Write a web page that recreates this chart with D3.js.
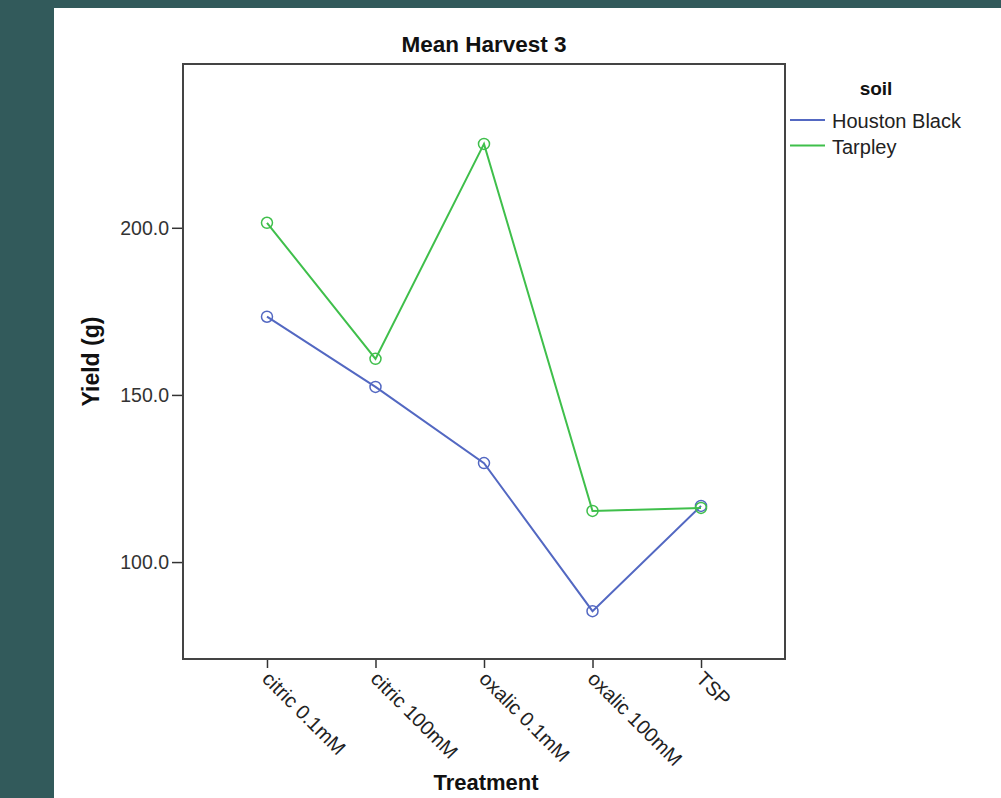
<!DOCTYPE html>
<html>
<head>
<meta charset="utf-8">
<script src="https://cdn.jsdelivr.net/npm/d3@7"></script>
<style>
  body { margin: 0; background: #325a5b; }
  svg { display: block; }
</style>
</head>
<body>
<svg id="chart" width="1001" height="798"></svg>
<script>
// data
let treatments = ["citric 0.1mM", "citric 100mM", "oxalic 0.1mM", "oxalic 100mM", "TSP"];
let houstonBlack = [173.4, 152.4, 129.6, 85.3, 116.8];
let tarpley = [201.5, 160.8, 225.1, 115.3, 116.2];
let yTicks = [100, 150, 200];
let seriesNames = ["Houston Black", "Tarpley"];
let seriesColors = ["#5368c2", "#3fbf4b"];

let svg = d3.select('#chart');
let fontFam = "'Liberation Sans', Arial, sans-serif";

// teal backdrop + white sheet
svg.append("rect").attr("width", 1001).attr("height", 798).attr("fill", "#325a5b");
svg.append("rect").attr("x", 54).attr("y", 8).attr("width", 947).attr("height", 790).attr("fill", "white");

let plot = {l: 183, r: 785, t: 64, b: 659};

let x = d3.scalePoint().domain(treatments).range([plot.l, plot.r]).padding(0.774);
let y = d3.scaleLinear().domain([71, 249]).range([plot.b, plot.t]);

// y axis
let yAxis = svg.append("g")
    .attr("transform", "translate(" + plot.l + ",0)")
    .call(d3.axisLeft(y).tickValues(yTicks).tickFormat(d3.format(".1f")).tickSize(11).tickPadding(3));
yAxis.select(".domain").remove();
yAxis.selectAll("line").attr("stroke", "#333").attr("stroke-width", 1.5);
yAxis.selectAll("text")
    .attr("font-family", fontFam).attr("font-size", "19.5px").attr("fill", "#333");

// x axis
let xAxis = svg.append("g")
    .attr("transform", "translate(0," + plot.b + ")")
    .call(d3.axisBottom(x).tickSize(9).tickFormat(""));
xAxis.select(".domain").remove();
xAxis.selectAll("line").attr("stroke", "#333").attr("stroke-width", 1.5);

svg.append("g").selectAll("text")
    .data(treatments)
    .enter()
    .append("text")
    .attr("transform", d => "translate(" + (x(d) - 6) + "," + (plot.b + 21) + ") rotate(45)")
    .attr("font-family", fontFam)
    .attr("font-size", "20px")
    .attr("fill", "#222")
    .text(d => d);

// frame
svg.append("rect")
    .attr("x", plot.l).attr("y", plot.t)
    .attr("width", plot.r - plot.l).attr("height", plot.b - plot.t)
    .attr("fill", "none").attr("stroke", "#444").attr("stroke-width", 2);

// lines + circle markers
let line = d3.line().x((d, i) => x(treatments[i])).y(d => y(d));
[houstonBlack, tarpley].forEach(function(vals, k) {
    svg.append("path")
        .attr("d", line(vals))
        .attr("fill", "none")
        .attr("stroke", seriesColors[k])
        .attr("stroke-width", 2);
    svg.append("g").selectAll("circle")
        .data(vals)
        .enter()
        .append("circle")
        .attr("cx", (d, i) => x(treatments[i]))
        .attr("cy", d => y(d))
        .attr("r", 5.5)
        .attr("fill", "none")
        .attr("stroke", seriesColors[k])
        .attr("stroke-width", 1.5);
});

// titles
svg.append("text")
    .attr("x", (plot.l + plot.r) / 2).attr("y", 52)
    .attr("text-anchor", "middle")
    .attr("font-family", fontFam).attr("font-weight", "bold").attr("font-size", "22.5px")
    .attr("fill", "#111")
    .text("Mean Harvest 3");

svg.append("text")
    .attr("transform", "translate(99," + (plot.t + plot.b) / 2 + ") rotate(-90)")
    .attr("text-anchor", "middle")
    .attr("font-family", fontFam).attr("font-weight", "bold").attr("font-size", "23px")
    .attr("fill", "#111")
    .text("Yield (g)");

svg.append("text")
    .attr("x", 486).attr("y", 790)
    .attr("text-anchor", "middle")
    .attr("font-family", fontFam).attr("font-weight", "bold").attr("font-size", "22px")
    .attr("fill", "#111")
    .text("Treatment");

// legend
svg.append("text")
    .attr("x", 876).attr("y", 95)
    .attr("text-anchor", "middle")
    .attr("font-family", fontFam).attr("font-weight", "bold").attr("font-size", "19px")
    .attr("fill", "#111")
    .text("soil");

let legend = svg.append("g").selectAll("g")
    .data(seriesNames)
    .enter()
    .append("g")
    .attr("transform", (d, i) => "translate(790," + (120 + i * 25.5) + ")");
legend.append("line")
    .attr("x1", 0).attr("x2", 35)
    .attr("stroke", (d, i) => seriesColors[i]).attr("stroke-width", 2);
legend.append("text")
    .attr("x", 42).attr("y", 8)
    .attr("font-family", fontFam).attr("font-size", "20px")
    .attr("fill", "#222")
    .text(d => d);
</script>
</body>
</html>
